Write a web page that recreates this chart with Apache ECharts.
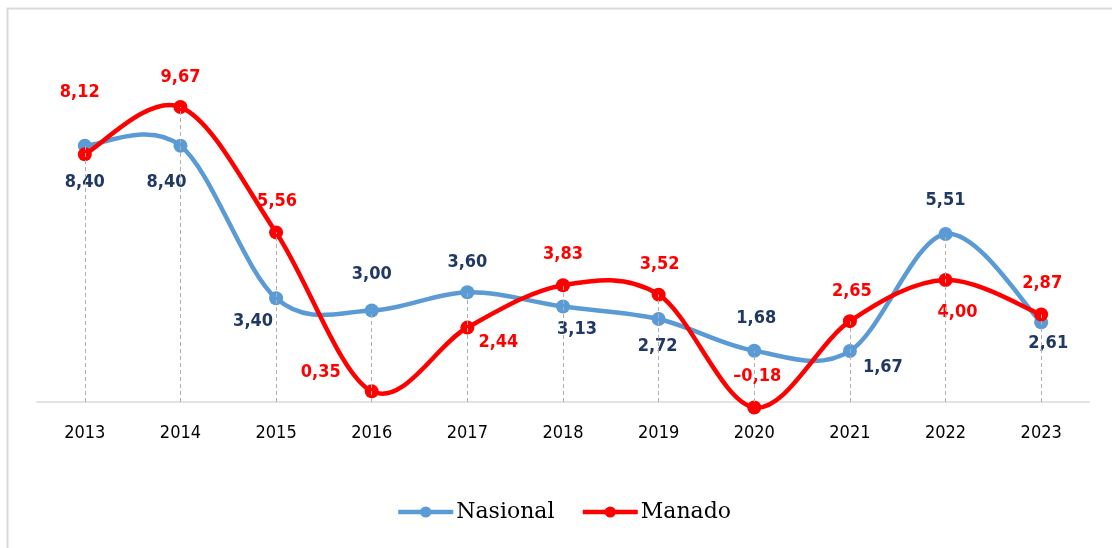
<!DOCTYPE html>
<html>
<head>
<meta charset="utf-8">
<script src="https://cdn.jsdelivr.net/npm/echarts@6/dist/echarts.min.js"></script>
<style>
  html, body { margin: 0; padding: 0; background: #fff; }
  #chart { width: 1112px; height: 548px; }
</style>
</head>
<body>
<div id="chart"></div>
<script>
const years = ['2013', '2014', '2015', '2016', '2017', '2018', '2019', '2020', '2021', '2022', '2023'];
const nasional = [8.40, 8.40, 3.40, 3.00, 3.60, 3.13, 2.72, 1.68, 1.67, 5.51, 2.61];
const manado = [8.12, 9.67, 5.56, 0.35, 2.44, 3.83, 3.52, -0.18, 2.65, 4.00, 2.87];

// label offsets from each point (px), kept apart from the values
const nasionalOffsets = [[0, 37], [-14, 37], [-23, 23], [0, -36], [0, -30], [14, 23], [-1, 27], [2, -32], [33, 16], [0, -34], [7, 21]];
const manadoOffsets = [[-5, -62], [0, -30], [1, -31], [-51, -19], [31, 15], [0, -31], [1, -30], [3, -31], [2, -30], [12, 32], [1, -31]];

const BLUE = '#5b9bd5';
const RED = '#ff0000';
const NAVY = '#1f3864';
const labelFont = "'DejaVu Sans Condensed', 'DejaVu Sans', sans-serif";
const fmt = v => v.toFixed(2).replace('.', ',').replace('-', '\u2013');

const chart = echarts.init(document.getElementById('chart'));

const withLabels = (values, offsets, color) => values.map((v, i) => ({
  value: v,
  label: {
    show: true,
    position: 'inside',
    offset: offsets[i],
    formatter: () => fmt(v),
    color: color,
    fontFamily: labelFont,
    fontWeight: 'bold',
    fontSize: 18
  }
}));

// smooth curve (Catmull-Rom style, like the spreadsheet smoothing) through the points
const curveSeries = (name, values, color, z) => ({
  name: name,
  type: 'custom',
  z: z,
  silent: true,
  data: values.map((v, i) => [i, v]),
  encode: { x: 0, y: 1 },
  renderItem: (params, api) => {
    const i = params.dataIndex;
    const n = values.length;
    if (i >= n - 1) return null;
    const pt = j => {
      const k = Math.max(0, Math.min(n - 1, j));
      return api.coord([k, values[k]]);
    };
    const p0 = pt(i - 1), p1 = pt(i), p2 = pt(i + 1), p3 = pt(i + 2);
    return {
      type: 'bezierCurve',
      shape: {
        x1: p1[0], y1: p1[1],
        x2: p2[0], y2: p2[1],
        cpx1: p1[0] + (p2[0] - p0[0]) / 6,
        cpy1: p1[1] + (p2[1] - p0[1]) / 6,
        cpx2: p2[0] - (p3[0] - p1[0]) / 6,
        cpy2: p2[1] - (p3[1] - p1[1]) / 6
      },
      style: { stroke: color, lineWidth: 4.5, fill: null, lineCap: 'round' }
    };
  }
});

const dropLines = years.map((y, i) => [
  { coord: [i, 0] },
  { coord: [i, Math.max(nasional[i], manado[i])] }
]);

const option = {
  backgroundColor: '#fff',
  animation: false,
  graphic: [{
    type: 'rect',
    shape: { x: 7.5, y: 8.5, width: 1130, height: 560 },
    style: { fill: 'none', stroke: '#d9d9d9', lineWidth: 2 },
    silent: true
  }],
  legend: {
    bottom: 20,
    left: 391,
    itemWidth: 55,
    itemHeight: 14,
    itemGap: 26,
    textStyle: {
      fontFamily: "'DejaVu Serif', serif",
      fontSize: 22,
      color: '#000',
      padding: [0, 0, 0, -2]
    },
    data: [
      { name: 'Nasional', lineStyle: { color: BLUE, width: 4.5, opacity: 1 } },
      { name: 'Manado', lineStyle: { color: RED, width: 4.5, opacity: 1 } }
    ]
  },
  grid: {
    left: 37,
    right: 23,
    top: 97,
    bottom: 146
  },
  xAxis: {
    type: 'category',
    data: years,
    boundaryGap: true,
    axisTick: { show: false },
    axisLine: {
      lineStyle: { color: '#d9d9d9', width: 1.5 }
    },
    axisLabel: {
      color: '#000',
      fontFamily: labelFont,
      fontSize: 18,
      margin: 22
    }
  },
  yAxis: {
    type: 'value',
    min: 0,
    max: 10,
    show: false,
    splitLine: { show: false }
  },
  series: [
    curveSeries('Nasional curve', nasional, BLUE, 2),
    {
      name: 'Nasional',
      type: 'line',
      clip: false,
      symbol: 'circle',
      symbolSize: 14,
      lineStyle: { color: BLUE, width: 4.5, opacity: 0 },
      itemStyle: { color: BLUE },
      data: withLabels(nasional, nasionalOffsets, NAVY),
      markLine: {
        silent: true,
        symbol: 'none',
        label: { show: false },
        lineStyle: { color: '#b0b0b0', type: [4, 3], width: 1 },
        data: dropLines
      },
      z: 2
    },
    curveSeries('Manado curve', manado, RED, 3),
    {
      name: 'Manado',
      type: 'line',
      clip: false,
      symbol: 'circle',
      symbolSize: 14,
      lineStyle: { color: RED, width: 4.5, opacity: 0 },
      itemStyle: { color: RED },
      data: withLabels(manado, manadoOffsets, RED),
      z: 3
    }
  ]
};

chart.setOption(option);
</script>
</body>
</html>
